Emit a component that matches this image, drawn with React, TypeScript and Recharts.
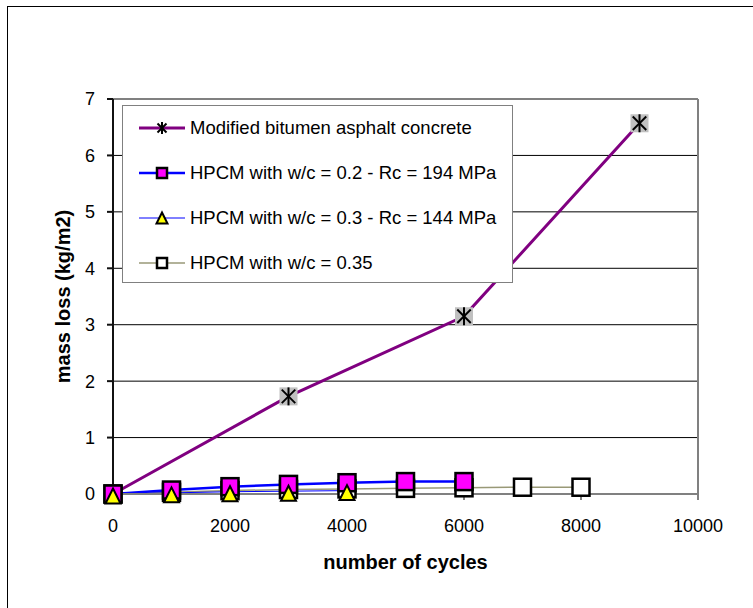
import React from "react";
import {
  LineChart,
  Line,
  XAxis,
  YAxis,
  CartesianGrid,
  ReferenceLine,
} from "recharts";

// values
const bitumenCycles = [0, 3000, 6000, 9000];
const bitumenLoss = [0, 1.73, 3.15, 6.57];

const hpcm02Cycles = [0, 1000, 2000, 3000, 4000, 5000, 6000];
const hpcm02Loss = [0, 0.07, 0.13, 0.17, 0.2, 0.22, 0.22];

const hpcm03Cycles = [0, 1000, 2000, 3000, 4000];
const hpcm03Loss = [0, 0.02, 0.04, 0.05, 0.06];

const hpcm035Cycles = [0, 1000, 2000, 3000, 4000, 5000, 6000, 7000, 8000];
const hpcm035Loss = [0, 0.03, 0.06, 0.08, 0.09, 0.1, 0.11, 0.12, 0.12];

const xTicks = [0, 2000, 4000, 6000, 8000, 10000];
const yTicks = [0, 1, 2, 3, 4, 5, 6, 7];

const legendLabels = [
  "Modified bitumen asphalt concrete",
  "HPCM with w/c = 0.2 - Rc = 194 MPa",
  "HPCM with w/c = 0.3 - Rc = 144 MPa",
  "HPCM with w/c = 0.35",
];

const zip = (xs: number[], ys: number[]) =>
  xs.map((x, i) => ({ cycles: x, loss: ys[i] }));

const FONT = "'Liberation Sans', Arial, sans-serif";

function Star({ cx, cy, s, bg }: { cx: number; cy: number; s: number; bg?: boolean }) {
  const h = s / 2;
  const a = h * 0.75;
  return (
    <g>
      {bg && <rect x={cx - h} y={cy - h} width={s} height={s} fill="#c0c0c0" />}
      <line x1={cx - a} y1={cy - a} x2={cx + a} y2={cy + a} stroke="#000" strokeWidth={2} />
      <line x1={cx - a} y1={cy + a} x2={cx + a} y2={cy - a} stroke="#000" strokeWidth={2} />
      <line x1={cx} y1={cy - h} x2={cx} y2={cy + h} stroke="#000" strokeWidth={2} />
    </g>
  );
}

function Square({ cx, cy, s, fill }: { cx: number; cy: number; s: number; fill: string }) {
  return (
    <rect x={cx - s / 2} y={cy - s / 2} width={s} height={s} fill={fill} stroke="#000" strokeWidth={2.5} />
  );
}

function Triangle({ cx, cy, s }: { cx: number; cy: number; s: number }) {
  const h = s / 2;
  return (
    <polygon
      points={`${cx},${cy - h} ${cx + h},${cy + h} ${cx - h},${cy + h}`}
      fill="#ffff00"
      stroke="#000"
      strokeWidth={2}
      strokeLinejoin="miter"
    />
  );
}

const dot = (kind: string) => (p: any) => {
  const { cx, cy, index } = p;
  if (cx == null || cy == null) return <g key={index} />;
  if (kind === "star") return <Star key={index} cx={cx} cy={cy} s={18} bg />;
  if (kind === "mag") return <Square key={index} cx={cx} cy={cy} s={17} fill="#ff00ff" />;
  if (kind === "tri") return <Triangle key={index} cx={cx} cy={cy + 2} s={15} />;
  return <Square key={index} cx={cx} cy={cy} s={17} fill="#ffffff" />;
};

const legendSamples = [
  { stroke: "#800080", width: 3, kind: "star" },
  { stroke: "#0000ff", width: 2.5, kind: "mag" },
  { stroke: "#0000ff", width: 1, kind: "tri" },
  { stroke: "#999977", width: 1.5, kind: "white" },
];

function LegendBox() {
  return (
    <div
      style={{
        position: "absolute",
        left: 122,
        top: 105,
        width: 389,
        height: 176,
        border: "1.5px solid #808080",
        background: "#fff",
        fontFamily: FONT,
        fontSize: 18.5,
        color: "#000",
      }}
    >
      {legendLabels.map((label, i) => {
        const s = legendSamples[i];
        return (
          <div
            key={label}
            style={{ position: "absolute", left: 0, top: 22 + i * 45 - 12, height: 24, width: "100%" }}
          >
            <svg width={64} height={24} style={{ position: "absolute", left: 14 }}>
              <line x1={2} y1={12} x2={48} y2={12} stroke={s.stroke} strokeWidth={s.width} />
              {s.kind === "star" && <Star cx={25} cy={12} s={12} />}
              {s.kind === "mag" && <Square cx={25} cy={12} s={10} fill="#ff00ff" />}
              {s.kind === "tri" && <Triangle cx={25} cy={12} s={11} />}
              {s.kind === "white" && <Square cx={25} cy={12} s={10} fill="#ffffff" />}
            </svg>
            <span style={{ position: "absolute", left: 67, top: 0, lineHeight: "24px", whiteSpace: "nowrap" }}>
              {label}
            </span>
          </div>
        );
      })}
    </div>
  );
}

export default function App() {
  return (
    <div style={{ position: "absolute", left: 0, top: 0, width: 753, height: 608, background: "#fff", overflow: "hidden" }}>
      <div
        style={{
          position: "absolute",
          left: 7,
          top: 6,
          width: 800,
          height: 700,
          borderLeft: "1.5px solid #000",
          borderTop: "1.5px solid #000",
        }}
      />
      <LineChart
        width={753}
        height={608}
        margin={{ top: 99, right: 55, left: 53, bottom: 74 }}
        style={{ position: "absolute", left: 0, top: 0 }}
      >
        <CartesianGrid vertical={false} stroke="#000" strokeWidth={1} />
        <XAxis
          type="number"
          dataKey="cycles"
          domain={[0, 10000]}
          ticks={xTicks}
          height={40}
          stroke="#808080"
          strokeWidth={2}
          tickSize={6}
          tickMargin={19}
          tick={{ fill: "#000", fontSize: 18, fontFamily: FONT }}
          allowDuplicatedCategory={false}
          label={{
            value: "number of cycles",
            position: "bottom",
            offset: 21,
            style: { fill: "#000", fontSize: 20, fontWeight: "bold", fontFamily: FONT },
          }}
        />
        <YAxis
          type="number"
          domain={[0, 7]}
          ticks={yTicks}
          width={60}
          stroke="#111"
          strokeWidth={2}
          tickSize={6}
          tickMargin={12}
          tick={{ fill: "#000", fontSize: 18, fontFamily: FONT }}
          label={{
            value: "mass loss (kg/m2)",
            angle: -90,
            position: "insideLeft",
            offset: 10,
            style: { textAnchor: "middle", fill: "#000", fontSize: 20, fontWeight: "bold", fontFamily: FONT },
          }}
        />
        <ReferenceLine y={7} stroke="#808080" strokeWidth={2} />
        <ReferenceLine x={10000} stroke="#808080" strokeWidth={2} />
        <Line
          data={zip(hpcm035Cycles, hpcm035Loss)}
          dataKey="loss"
          stroke="#999977"
          strokeWidth={1.5}
          dot={dot("white")}
          isAnimationActive={false}
        />
        <Line
          data={zip(bitumenCycles, bitumenLoss)}
          dataKey="loss"
          stroke="#800080"
          strokeWidth={3}
          dot={dot("star")}
          isAnimationActive={false}
        />
        <Line
          data={zip(hpcm02Cycles, hpcm02Loss)}
          dataKey="loss"
          stroke="#0000ff"
          strokeWidth={2.5}
          dot={dot("mag")}
          isAnimationActive={false}
        />
        <Line
          data={zip(hpcm03Cycles, hpcm03Loss)}
          dataKey="loss"
          stroke="#0000ff"
          strokeWidth={1}
          dot={dot("tri")}
          isAnimationActive={false}
        />
      </LineChart>
      <LegendBox />
    </div>
  );
}
